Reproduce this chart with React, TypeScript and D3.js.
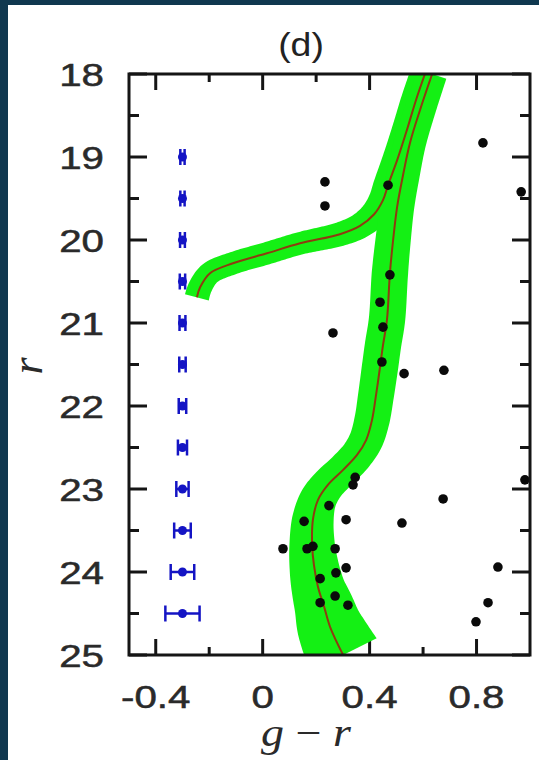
import React, { useEffect, useRef } from 'react';
import * as d3 from 'd3';

// isochrone with the bright branch turning blueward
const isoAColor = [0.607, 0.574, 0.540, 0.506, 0.469, 0.450, 0.417, 0.364, 0.289, 0.140, 0.016, -0.111, -0.197, -0.234, -0.246];
const isoAMag = [18.00, 18.31, 18.67, 19.01, 19.34, 19.52, 19.69, 19.83, 19.93, 20.04, 20.16, 20.28, 20.40, 20.57, 20.69];
const isoABand = [0.056, 0.056, 0.056, 0.056, 0.055, 0.054, 0.052, 0.048, 0.045, 0.042, 0.042, 0.042, 0.043, 0.045, 0.046];

// isochrone running down to the main sequence
const isoBColor = [0.634, 0.589, 0.551, 0.525, 0.503, 0.488, 0.476, 0.465, 0.450, 0.439, 0.424, 0.409, 0.387, 0.353, 0.301, 0.244, 0.207, 0.188, 0.185, 0.192, 0.207, 0.230, 0.252, 0.301];
const isoBMag = [18.00, 18.43, 18.83, 19.22, 19.60, 20.00, 20.40, 20.96, 21.27, 21.53, 21.87, 22.17, 22.41, 22.59, 22.77, 22.95, 23.13, 23.37, 23.67, 23.92, 24.18, 24.42, 24.66, 25.00];
const isoBBand = [0.056, 0.058, 0.060, 0.062, 0.064, 0.066, 0.068, 0.068, 0.068, 0.068, 0.067, 0.066, 0.064, 0.062, 0.062, 0.064, 0.070, 0.078, 0.085, 0.092, 0.100, 0.112, 0.124, 0.140];

// stars
const starColor = [0.233, 0.233, 0.469, 0.824, 0.967, 0.476, 0.439, 0.450, 0.263, 0.446, 0.529, 0.678, 0.346, 0.338, 0.981, 0.675, 0.248, 0.155, 0.312, 0.521, 0.076, 0.166, 0.188, 0.271, 0.312, 0.274, 0.215, 0.880, 0.271, 0.215, 0.319, 0.843, 0.798];
const starMag = [19.30, 19.59, 19.34, 18.83, 19.42, 20.42, 20.75, 21.05, 21.12, 21.47, 21.61, 21.57, 22.86, 22.95, 22.89, 23.12, 23.20, 23.39, 23.37, 23.41, 23.72, 23.72, 23.69, 23.72, 23.95, 24.01, 24.08, 23.94, 24.29, 24.37, 24.40, 24.37, 24.60];

// photometric errors
const errPos = -0.3;
const errMag = [19, 19.5, 20, 20.5, 21, 21.5, 22, 22.5, 23, 23.5, 24, 24.5];
const errColor = [0.008, 0.008, 0.009, 0.010, 0.011, 0.012, 0.014, 0.017, 0.023, 0.031, 0.044, 0.064];

const xTicks = [-0.4, 0, 0.4, 0.8];
const xMinor = [-0.2, 0.2, 0.6];
const yTicks = [18, 19, 20, 21, 22, 23, 24, 25];
const yMinor = [18.5, 19.5, 20.5, 21.5, 22.5, 23.5, 24.5];

const W = 539;
const H = 760;
const margin = { top: 74, right: 9, bottom: 105, left: 129 };
const labelFont = '"Liberation Sans", Arial, sans-serif';
const mathFont = '"Liberation Serif", "Times New Roman", serif';
const stretch = 1.3; // labels in the picture are drawn wide

const App: React.FC = () => {
  const svgRef = useRef<SVGSVGElement>(null);

  useEffect(() => {
    if (!svgRef.current) return;
    const svg = d3.select(svgRef.current);
    svg.selectAll('*').remove();

    const iw = W - margin.left - margin.right;
    const ih = H - margin.top - margin.bottom;

    // background + white panel
    svg.append('rect').attr('width', W).attr('height', H).attr('fill', '#10384f');
    svg.append('rect').attr('x', 8).attr('y', 5).attr('width', W - 8).attr('height', H - 5).attr('fill', '#ffffff');

    const x = d3.scaleLinear().domain([-0.5, 1.0]).range([0, iw]);
    const y = d3.scaleLinear().domain([18, 25]).range([0, ih]);

    const g = svg.append('g').attr('transform', `translate(${margin.left},${margin.top})`);

    svg.append('defs').append('clipPath').attr('id', 'plotClip')
      .append('rect').attr('width', iw).attr('height', ih);

    // ticks (inward, all four sides)
    const tickG = g.append('g').attr('stroke', '#151515').attr('stroke-width', 3);
    const tickX = (vals: number[], len: number) => {
      vals.forEach(v => {
        tickG.append('line').attr('x1', x(v)).attr('x2', x(v)).attr('y1', 0).attr('y2', len);
        tickG.append('line').attr('x1', x(v)).attr('x2', x(v)).attr('y1', ih).attr('y2', ih - len);
      });
    };
    const tickY = (vals: number[], len: number) => {
      vals.forEach(v => {
        tickG.append('line').attr('y1', y(v)).attr('y2', y(v)).attr('x1', 0).attr('x2', len);
        tickG.append('line').attr('y1', y(v)).attr('y2', y(v)).attr('x1', iw).attr('x2', iw - len);
      });
    };
    tickX(xTicks, 16);
    tickX(xMinor, 8);
    tickY(yTicks, 18);
    tickY(yMinor, 10);

    const plot = g.append('g').attr('clip-path', 'url(#plotClip)');

    // green uncertainty bands around each isochrone
    const lineGen = d3.line<[number, number]>().curve(d3.curveCatmullRom.alpha(0.5));
    const buildBand = (cols: number[], mags: number[], bands: number[]) => {
      const pts = cols.map((c, i) => [x(c), y(mags[i])] as [number, number]);
      const tmp = plot.append('path').attr('d', lineGen(pts)).attr('fill', 'none');
      const node = tmp.node() as SVGPathElement;
      const L = node.getTotalLength();
      const n = Math.ceil(L / 2);
      const samples = d3.range(n + 1).map(i => node.getPointAtLength((L * i) / n));
      tmp.remove();
      const wScale = d3.scaleLinear().domain(mags).range(bands).clamp(true);
      const unit = x(1) - x(0);
      const left: [number, number][] = [];
      const right: [number, number][] = [];
      samples.forEach((p, i) => {
        const a = samples[Math.max(0, i - 2)];
        const b = samples[Math.min(n, i + 2)];
        let tx = b.x - a.x;
        let ty = b.y - a.y;
        const len = Math.hypot(tx, ty) || 1;
        tx /= len;
        ty /= len;
        const w = wScale(y.invert(p.y)) * unit;
        left.push([p.x - ty * w, p.y + tx * w]);
        right.push([p.x + ty * w, p.y - tx * w]);
      });
      return d3.line()([...left, ...right.reverse()]) + 'Z';
    };

    [[isoAColor, isoAMag, isoABand], [isoBColor, isoBMag, isoBBand]].forEach(([c, m, b]) => {
      plot.append('path').attr('d', buildBand(c, m, b)).attr('fill', '#14f014');
    });

    [[isoAColor, isoAMag], [isoBColor, isoBMag]].forEach(([c, m]) => {
      plot.append('path')
        .attr('d', lineGen(c.map((v, i) => [x(v), y(m[i])] as [number, number])))
        .attr('fill', 'none')
        .attr('stroke', '#8e3c10')
        .attr('stroke-width', 2);
    });

    // black stars
    plot.selectAll('.star')
      .data(starColor.map((c, i) => ({ c, m: starMag[i] })))
      .join('circle')
      .attr('cx', d => x(d.c))
      .attr('cy', d => y(d.m))
      .attr('r', 4.8)
      .attr('fill', '#0a0a0a');

    // blue error bars
    const errG = plot.append('g').attr('stroke', '#1414c4').attr('fill', '#1414c4');
    errMag.forEach((m, i) => {
      const x0 = x(errPos - errColor[i]);
      const x1 = x(errPos + errColor[i]);
      const yy = y(m);
      errG.append('line').attr('x1', x0).attr('x2', x1).attr('y1', yy).attr('y2', yy).attr('stroke-width', 2.5);
      [x0, x1].forEach(xx => {
        errG.append('line').attr('x1', xx).attr('x2', xx).attr('y1', yy - 8).attr('y2', yy + 8).attr('stroke-width', 2.5);
      });
      errG.append('circle').attr('cx', x(errPos)).attr('cy', yy).attr('r', 4.5).attr('stroke', 'none');
    });

    // frame
    g.append('rect').attr('width', iw).attr('height', ih)
      .attr('fill', 'none').attr('stroke', '#151515').attr('stroke-width', 3);

    // tick labels
    xTicks.forEach(v => {
      g.append('text')
        .attr('transform', `translate(${x(v)},${ih + 42}) scale(${stretch},1)`)
        .attr('text-anchor', 'middle').attr('dominant-baseline', 'central')
        .attr('font-family', labelFont).attr('font-size', 31).attr('fill', '#2a2a2a')
        .attr('stroke', '#2a2a2a').attr('stroke-width', 0.5)
        .text(v === 0 ? '0' : d3.format('.1f')(v).replace('−', '-'));
    });
    yTicks.forEach(v => {
      g.append('text')
        .attr('transform', `translate(-25,${y(v) + 1}) scale(${stretch},1)`)
        .attr('text-anchor', 'end').attr('dominant-baseline', 'central')
        .attr('font-family', labelFont).attr('font-size', 31).attr('fill', '#2a2a2a')
        .attr('stroke', '#2a2a2a').attr('stroke-width', 0.5)
        .text(String(v));
    });

    // title and axis titles
    svg.append('text')
      .attr('transform', 'translate(301,45) scale(1.1,1)')
      .attr('text-anchor', 'middle').attr('dominant-baseline', 'central')
      .attr('font-family', labelFont).attr('font-size', 34).attr('fill', '#222')
      .text('(d)');

    const xl = svg.append('text')
      .attr('transform', 'translate(306,746) scale(1.15,1)')
      .attr('text-anchor', 'middle')
      .attr('font-family', mathFont).attr('font-size', 40).attr('fill', '#2a2a2a');
    xl.append('tspan').attr('font-style', 'italic').text('g');
    xl.append('tspan').text(' − ');
    xl.append('tspan').attr('font-style', 'italic').text('r');

    svg.append('text')
      .attr('transform', 'translate(42,366) rotate(-90)')
      .attr('text-anchor', 'middle')
      .attr('font-family', mathFont).attr('font-style', 'italic')
      .attr('font-size', 44).attr('fill', '#2a2a2a')
      .text('r');
  }, []);

  return (
    <div style={{ position: 'absolute', left: 0, top: 0 }}>
      <svg ref={svgRef} width={W} height={H} style={{ display: 'block' }} />
    </div>
  );
};

export default App;
